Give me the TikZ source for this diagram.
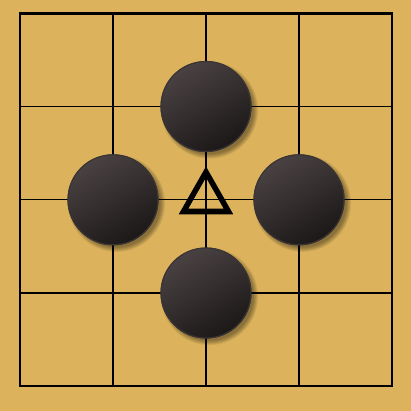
\documentclass[tikz,border=0pt]{standalone}
\begin{document}
\begin{tikzpicture}[x=1pt,y=-1pt]
\definecolor{boardc}{HTML}{DCB35C}
\definecolor{stonelight}{HTML}{4A4242}
\definecolor{stonedark}{HTML}{1C1818}
\definecolor{stoneedge}{HTML}{3A3434}
\tikzset{
  gridline/.style={line width=1.5pt,black},
  borderline/.style={line width=2.2pt,black},
  stonebody/.style={top color=stonelight,bottom color=stonedark,shading angle=30},
  marktri/.style={line width=5.5pt,black,line join=miter}
}
\fill[boardc] (0,0) rectangle (411,411);
\useasboundingbox (0,0) rectangle (411,411);
% grid
\foreach \i in {1,2,3}{
  \draw[gridline] (20+93*\i,13.5) -- (20+93*\i,386);
  \draw[gridline] (20,13.5+93.125*\i) -- (392,13.5+93.125*\i);
}
\draw[borderline] (20,13.5) rectangle (392,386);
% stones
\foreach \n/\cx/\cy in {t/206/106.5, l/113/199.8, r/299/199.8, b/206/293}{
  \foreach \k in {1,...,6}{
    \fill[black,opacity=0.07] (\cx+3.5,\cy+3.5) circle ({46.5-\k*0.9+3});
  }
  \shade[stonebody] (\cx,\cy) circle (45.5);
  \draw[stoneedge,line width=1.2pt] (\cx,\cy) circle (45);
  \coordinate (s\n) at (\cx,\cy);
}
% triangle mark
\coordinate (ctr) at (206,199.8);
\draw[marktri] (206,172) -- (228.5,211.5) -- (183.5,211.5) -- cycle;
\end{tikzpicture}
\end{document}
